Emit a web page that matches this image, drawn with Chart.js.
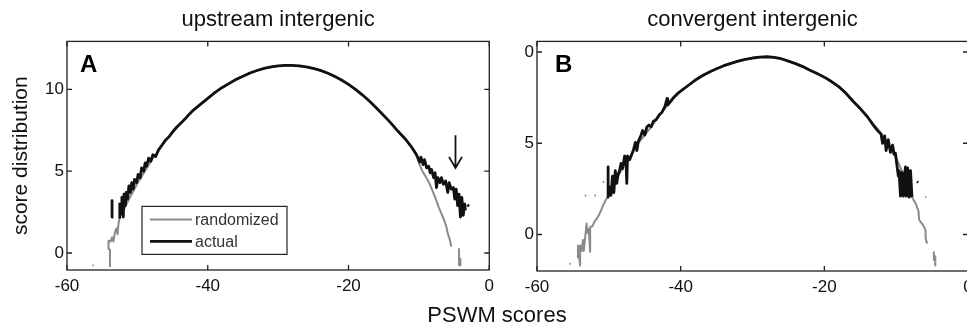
<!DOCTYPE html>
<html>
<head>
<meta charset="utf-8">
<title>PSWM score distribution</title>
<script src="https://cdn.jsdelivr.net/npm/chart.js@4.4.0/dist/chart.umd.min.js"></script>
<style>
    html, body { margin: 0; padding: 0; background: #fff; overflow: hidden; }
    .wrap { position: relative; width: 967px; height: 329px; overflow: hidden; }
    #chartA { position: absolute; left: 0; top: 0; }
    #chartB { position: absolute; left: 500px; top: 0; }
    .xlabel {
        position: absolute; left: 397px; top: 304px; width: 200px;
        text-align: center; color: #111;
        font: 22px/22px "Liberation Sans", Arial, sans-serif;
    }
</style>
</head>
<body>
<div class="wrap">
    <canvas id="chartA" width="500" height="329"></canvas>
    <canvas id="chartB" width="480" height="329"></canvas>
    <div class="xlabel">PSWM scores</div>
</div>
<script>
// ===== DATA ([score, distribution]; null = gap) =====
const titles = ['upstream intergenic', 'convergent intergenic'];
const seriesNames = ['randomized', 'actual'];
const xTicks = [-60, -40, -20, 0];
const yTicksA = [0, 5, 10];
const yTicksB = [0, 5, 10];
const yTickLabelsB = ['0', '5', '0'];
const arrowA = [-4.8, 7.2, 5.2]; // x, from y, to y

const randomA = [
    [-56.4, -0.77], [-56.2, -0.77], [-56.0, null],
    [-53.9, -0.85], [-53.9, 0.2], [-54.1, 0.25], [-54.1, 0.75], [-53.8, 0.7], [-53.6, 0.95],
    [-53.4, 0.7], [-53.2, 1.25], [-53.0, 1.5], [-52.8, 1.15], [-52.7, 1.75], [-52.5, 2.2],
    [-52.0, 2.6], [-51.0, 3.45], [-50.0, 4.25], [-49.0, 4.95], [-48.0, 5.65], [-47.0, 6.25],
    [-46.0, 6.85], [-45.0, 7.35], [-44.0, 7.85], [-43.0, 8.3], [-42.0, 8.72], [-40.0, 9.45],
    [-38.0, 10.1], [-36.0, 10.6], [-34.0, 11.0], [-32.0, 11.28], [-30.0, 11.43], [-28.0, 11.46],
    [-26.0, 11.37], [-24.0, 11.16], [-22.0, 10.8], [-20.0, 10.3], [-18.0, 9.65], [-16.0, 8.85],
    [-14.0, 7.95], [-12.0, 7.0], [-11.0, 6.45], [-10.4, 6.0], [-9.9, 5.4], [-9.5, 5.0],
    [-9.0, 4.65], [-8.5, 4.25], [-8.1, 3.84], [-7.6, 3.3], [-7.2, 2.82], [-6.8, 2.4],
    [-6.4, 2.0], [-6.1, 1.6], [-5.9, 1.2], [-5.6, 0.8], [-5.4, 0.39], [-5.2, null],
    [-4.3, 0.25], [-4.3, -0.75], [-4.1, -0.35], [-4.1, -0.75]
];

const actualA = [
    [-53.6, 3.2], [-53.6, 2.2], [-53.4, 2.2], [-53.0, null],
    [-52.5, 2.1], [-52.5, 3.0], [-52.3, 2.4], [-52.2, 3.4], [-52.0, 2.2], [-51.9, 3.6],
    [-51.7, 2.9], [-51.6, 3.7], [-51.4, 3.3], [-51.2, 4.1], [-51.0, 3.7], [-50.8, 4.3],
    [-50.6, 3.9], [-50.4, 4.5], [-50.1, 4.3], [-49.9, 4.8], [-49.6, 4.6], [-49.4, 5.2],
    [-49.1, 5.0], [-48.9, 5.5], [-48.7, 5.3], [-48.4, 5.8], [-48.1, 5.6], [-47.8, 6.0],
    [-47.4, 5.9], [-47.0, 6.3], [-46.5, 6.6], [-46.0, 6.9], [-45.5, 7.1], [-45.0, 7.4],
    [-44.4, 7.7], [-43.8, 7.95], [-43.2, 8.2], [-42.6, 8.5], [-42.0, 8.75], [-41.0, 9.1],
    [-40.0, 9.45], [-39.0, 9.8], [-38.0, 10.1], [-37.0, 10.35], [-36.0, 10.6], [-35.0, 10.8],
    [-34.0, 11.0], [-33.0, 11.15], [-32.0, 11.28], [-31.0, 11.37], [-30.0, 11.43], [-29.0, 11.46],
    [-28.0, 11.46], [-27.0, 11.43], [-26.0, 11.37], [-25.0, 11.28], [-24.0, 11.16], [-23.0, 11.0],
    [-22.0, 10.8], [-21.0, 10.57], [-20.0, 10.3], [-19.0, 10.0], [-18.0, 9.65], [-17.0, 9.27],
    [-16.0, 8.85], [-15.0, 8.4], [-14.0, 7.95], [-13.0, 7.45], [-12.0, 7.0], [-11.0, 6.45],
    [-10.4, 6.05], [-10.1, 5.8], [-9.9, 5.55], [-9.7, 5.85], [-9.4, 5.4], [-9.2, 5.7],
    [-8.9, 5.2], [-8.6, 5.3], [-8.4, 4.9], [-8.2, 5.1], [-7.9, 4.6], [-7.7, 4.9],
    [-7.5, 4.0], [-7.3, 4.6], [-7.0, 4.3], [-6.8, 4.6], [-6.5, 4.2], [-6.2, 4.4],
    [-5.9, 3.7], [-5.7, 4.3], [-5.4, 3.9], [-5.1, 4.0], [-4.9, 3.3], [-4.7, 3.9],
    [-4.5, 2.9], [-4.3, 3.6], [-4.1, 2.2], [-3.9, 3.4], [-3.7, 2.3], [-3.5, 3.0],
    [-3.4, 2.6], [-3.3, null], [-3.1, 2.95], [-2.9, 2.85]
];

const randomB = [
    [-55.5, -1.6], [-55.3, -1.6], [-55.2, null],
    [-53.35, 2.14], [-53.15, 2.14], [-53.0, null],
    [-52.0, 2.14], [-51.8, 2.14], [-51.7, null],
    [-50.85, 2.87], [-50.65, 2.87], [-50.5, null],
    [-54.3, -1.3], [-54.3, -0.6], [-54.0, -1.7], [-54.0, -0.6], [-53.8, -0.9], [-53.6, -0.3],
    [-53.5, -0.9], [-53.3, -0.2], [-53.1, 0.6], [-53.0, 0.1], [-52.8, 0.3], [-52.6, -0.95],
    [-52.6, 0.4], [-52.3, 0.45], [-52.0, 0.7], [-51.7, 0.85], [-51.4, 1.05], [-51.1, 1.3],
    [-50.8, 1.6], [-50.4, 1.9], [-50.1, 2.1], [-49.0, 3.0], [-48.0, 3.7], [-47.0, 4.3],
    [-46.0, 4.95], [-45.0, 5.45], [-44.0, 5.95], [-43.0, 6.5], [-42.0, 7.0], [-41.0, 7.45],
    [-40.0, 7.85], [-38.0, 8.45], [-36.0, 8.9], [-34.0, 9.25], [-32.0, 9.5], [-30.0, 9.67],
    [-28.0, 9.74], [-26.0, 9.63], [-24.0, 9.36], [-22.0, 9.0], [-20.0, 8.62], [-18.0, 8.1],
    [-16.0, 7.3], [-14.0, 6.45], [-12.0, 5.5], [-11.0, 4.9], [-10.0, 4.2], [-9.0, 3.3],
    [-8.2, 2.4], [-7.8, 2.05], [-7.3, 1.7], [-6.9, 1.3], [-6.8, 0.8], [-6.4, 0.6],
    [-6.1, 0.4], [-5.9, 0.2], [-5.9, -0.2], [-5.7, -0.5], [-5.5, null],
    [-4.75, -0.97], [-4.75, -1.4], [-4.55, -1.2], [-4.55, -1.7], [-4.4, null],
    [-5.95, 2.05], [-5.8, 2.05]
];

const actualB = [
    [-50.1, 3.7], [-50.1, 2.05], [-49.9, 2.6], [-49.7, 2.15], [-49.5, 3.2], [-49.3, 2.3],
    [-49.1, 3.5], [-48.9, 2.8], [-48.7, 3.3], [-48.5, 3.5], [-48.3, 3.9], [-48.1, 3.6],
    [-47.8, 4.3], [-47.6, 3.9], [-47.5, 2.8], [-47.4, 4.3], [-47.1, 4.1], [-46.8, 4.4],
    [-46.6, 4.6], [-46.3, 5.05], [-46.1, 4.6], [-45.9, 5.1], [-45.6, 5.35], [-45.3, 5.7],
    [-45.0, 5.45], [-44.7, 5.9], [-44.4, 6.0], [-44.1, 5.9], [-43.8, 6.2], [-43.4, 6.3],
    [-43.0, 6.55], [-42.6, 6.7], [-42.2, 7.0], [-41.9, 7.45], [-41.8, 7.1], [-41.4, 7.3],
    [-41.0, 7.5], [-40.5, 7.7], [-40.0, 7.85], [-39.0, 8.15], [-38.0, 8.45], [-37.0, 8.7],
    [-36.0, 8.9], [-35.0, 9.08], [-34.0, 9.25], [-33.0, 9.38], [-32.0, 9.5], [-31.0, 9.6],
    [-30.0, 9.67], [-29.0, 9.72], [-28.0, 9.74], [-27.0, 9.71], [-26.0, 9.63], [-25.0, 9.5],
    [-24.0, 9.36], [-23.0, 9.2], [-22.0, 9.0], [-21.0, 8.82], [-20.0, 8.62], [-19.0, 8.38],
    [-18.0, 8.1], [-17.0, 7.75], [-16.0, 7.3], [-15.0, 6.9], [-14.0, 6.45], [-13.3, 6.05],
    [-12.6, 5.7], [-12.1, 5.5], [-11.9, 5.0], [-11.6, 5.4], [-11.4, 4.6], [-11.1, 5.2],
    [-10.8, 4.5], [-10.5, 4.9], [-10.3, 4.4], [-10.1, 4.45], [-9.9, 3.8], [-9.7, 3.2],
    [-9.6, 3.5], [-9.4, 2.1], [-9.2, 3.4], [-9.0, 2.1], [-8.9, 3.0], [-8.7, 3.7],
    [-8.6, 2.1], [-8.4, 3.65], [-8.2, 2.05], [-8.0, 3.5], [-7.8, 2.05], [-7.5, null],
    [-7.1, 2.9], [-6.95, 2.85]
];

const FONT = '"Liberation Sans", Arial, sans-serif';
Chart.defaults.font.family = FONT;
Chart.defaults.color = '#111';

// ===== PLUGINS =====
// box with inward ticks on all four sides, plus the panel letter
const frame = {
    id: 'frame',
    afterDatasetsDraw(chart, args, opts) {
        const { ctx, chartArea: a, scales: { x, y } } = chart;
        ctx.save();
        ctx.strokeStyle = '#222';
        ctx.lineWidth = 1.3;
        ctx.strokeRect(a.left, a.top, a.width, a.height);
        ctx.beginPath();
        x.ticks.forEach(t => {
            const px = x.getPixelForValue(t.value);
            ctx.moveTo(px, a.bottom); ctx.lineTo(px, a.bottom - 5);
            ctx.moveTo(px, a.top); ctx.lineTo(px, a.top + 5);
        });
        y.ticks.forEach(t => {
            const py = y.getPixelForValue(t.value);
            ctx.moveTo(a.left, py); ctx.lineTo(a.left + 5, py);
            ctx.moveTo(a.right, py); ctx.lineTo(a.right - 5, py);
        });
        ctx.stroke();
        ctx.fillStyle = '#000';
        ctx.font = 'bold 24px ' + FONT;
        ctx.textBaseline = 'alphabetic';
        ctx.fillText(opts.letter, a.left + opts.dx, a.top + opts.dy);
        ctx.restore();
    }
};

// legend box inside the plot (panel A only)
const boxLegend = {
    id: 'boxLegend',
    afterDraw(chart, args, opts) {
        if (!opts.show) return;
        const { ctx, chartArea: a } = chart;
        const left = a.left + 75, top = a.top + 165, w = 145, h = 48;
        ctx.save();
        ctx.fillStyle = '#fff';
        ctx.fillRect(left, top, w, h);
        ctx.strokeStyle = '#222';
        ctx.lineWidth = 1.2;
        ctx.strokeRect(left, top, w, h);
        ctx.font = '16px ' + FONT;
        ctx.textBaseline = 'middle';
        chart.data.datasets.forEach((ds, i) => {
            const ly = top + 13 + i * 22;
            ctx.strokeStyle = ds.borderColor;
            ctx.lineWidth = ds.borderWidth;
            ctx.beginPath();
            ctx.moveTo(left + 8, ly);
            ctx.lineTo(left + 50, ly);
            ctx.stroke();
            ctx.fillStyle = '#333';
            ctx.fillText(ds.label, left + 53, ly + 1);
        });
        ctx.restore();
    }
};

// down arrow pointing at the excess of actual scores
const arrow = {
    id: 'arrow',
    afterDraw(chart, args, opts) {
        if (!opts.at) return;
        const { ctx, scales: { x, y } } = chart;
        const px = x.getPixelForValue(opts.at[0]);
        const y0 = y.getPixelForValue(opts.at[1]);
        const y1 = y.getPixelForValue(opts.at[2]);
        ctx.save();
        ctx.strokeStyle = '#111';
        ctx.lineWidth = 1.8;
        ctx.beginPath();
        ctx.moveTo(px, y0); ctx.lineTo(px, y1);
        ctx.moveTo(px - 6.5, y1 - 11); ctx.lineTo(px, y1); ctx.lineTo(px + 6.5, y1 - 11);
        ctx.stroke();
        ctx.restore();
    }
};

// ===== BUILD CHARTS =====
function toPoints(rows) {
    return rows.map(r => ({ x: r[0], y: r[1] }));
}

function makePanel(canvasId, cfg) {
    const ctx = document.getElementById(canvasId).getContext('2d');
    return new Chart(ctx, {
        type: 'line',
        data: {
            datasets: [
                {
                    label: seriesNames[0],
                    data: toPoints(cfg.random),
                    borderColor: '#8a8a8a',
                    borderWidth: 2,
                    order: 1
                },
                {
                    label: seriesNames[1],
                    data: toPoints(cfg.actual),
                    borderColor: '#111',
                    borderWidth: 2.8,
                    order: 0
                }
            ]
        },
        options: {
            responsive: false,
            animation: false,
            spanGaps: false,
            elements: {
                point: { radius: 0, hoverRadius: 0 },
                line: { tension: 0, borderJoinStyle: 'round', borderCapStyle: 'butt', fill: false }
            },
            layout: { padding: { left: 0, right: cfg.padRight, top: 0, bottom: 0 } },
            plugins: {
                legend: { display: false },
                tooltip: { enabled: false },
                title: {
                    display: true,
                    text: cfg.title,
                    fullSize: false,
                    color: '#111',
                    font: { size: 22, weight: 'normal' },
                    padding: { top: 7, bottom: 8 }
                },
                frame: { letter: cfg.letter, dx: cfg.letterDx, dy: 31 },
                boxLegend: { show: cfg.legend },
                arrow: { at: cfg.arrow }
            },
            scales: {
                x: {
                    type: 'linear',
                    min: -60,
                    max: 0,
                    afterBuildTicks: s => { s.ticks = xTicks.map(v => ({ value: v })); },
                    afterFit: s => { s.height = cfg.xHeight; },
                    grid: { display: false, drawTicks: false },
                    border: { display: false },
                    ticks: { color: '#111', padding: 6, font: { size: 17 }, maxRotation: 0, autoSkip: false }
                },
                y: {
                    type: 'linear',
                    min: cfg.yMin,
                    max: cfg.yMax,
                    afterBuildTicks: s => { s.ticks = cfg.yTicks.map(v => ({ value: v })); },
                    afterFit: s => { s.width = cfg.yWidth; },
                    grid: { display: false, drawTicks: false },
                    border: { display: false },
                    ticks: {
                        color: '#111',
                        padding: 3,
                        font: { size: 17 },
                        callback: cfg.yLabels ? (v, i) => cfg.yLabels[i] : v => v
                    },
                    title: {
                        display: !!cfg.yTitle,
                        text: cfg.yTitle,
                        color: '#111',
                        font: { size: 21 },
                        padding: { top: 9, bottom: 0 }
                    }
                }
            }
        },
        plugins: [frame, boxLegend, arrow]
    });
}

makePanel('chartA', {
    title: titles[0],
    random: randomA,
    actual: actualA,
    yMin: -1.04, yMax: 12.93,
    yTicks: yTicksA,
    yTitle: 'score distribution',
    yWidth: 67, xHeight: 59, padRight: 10,
    letter: 'A', letterDx: 13,
    legend: true,
    arrow: arrowA
});

makePanel('chartB', {
    title: titles[1],
    random: randomB,
    actual: actualB,
    yMin: -2.0, yMax: 10.58,
    yTicks: yTicksB,
    yLabels: yTickLabelsB,
    yTitle: '',
    yWidth: 37, xHeight: 58, padRight: 12,
    letter: 'B', letterDx: 18,
    legend: false,
    arrow: null
});
</script>
</body>
</html>
